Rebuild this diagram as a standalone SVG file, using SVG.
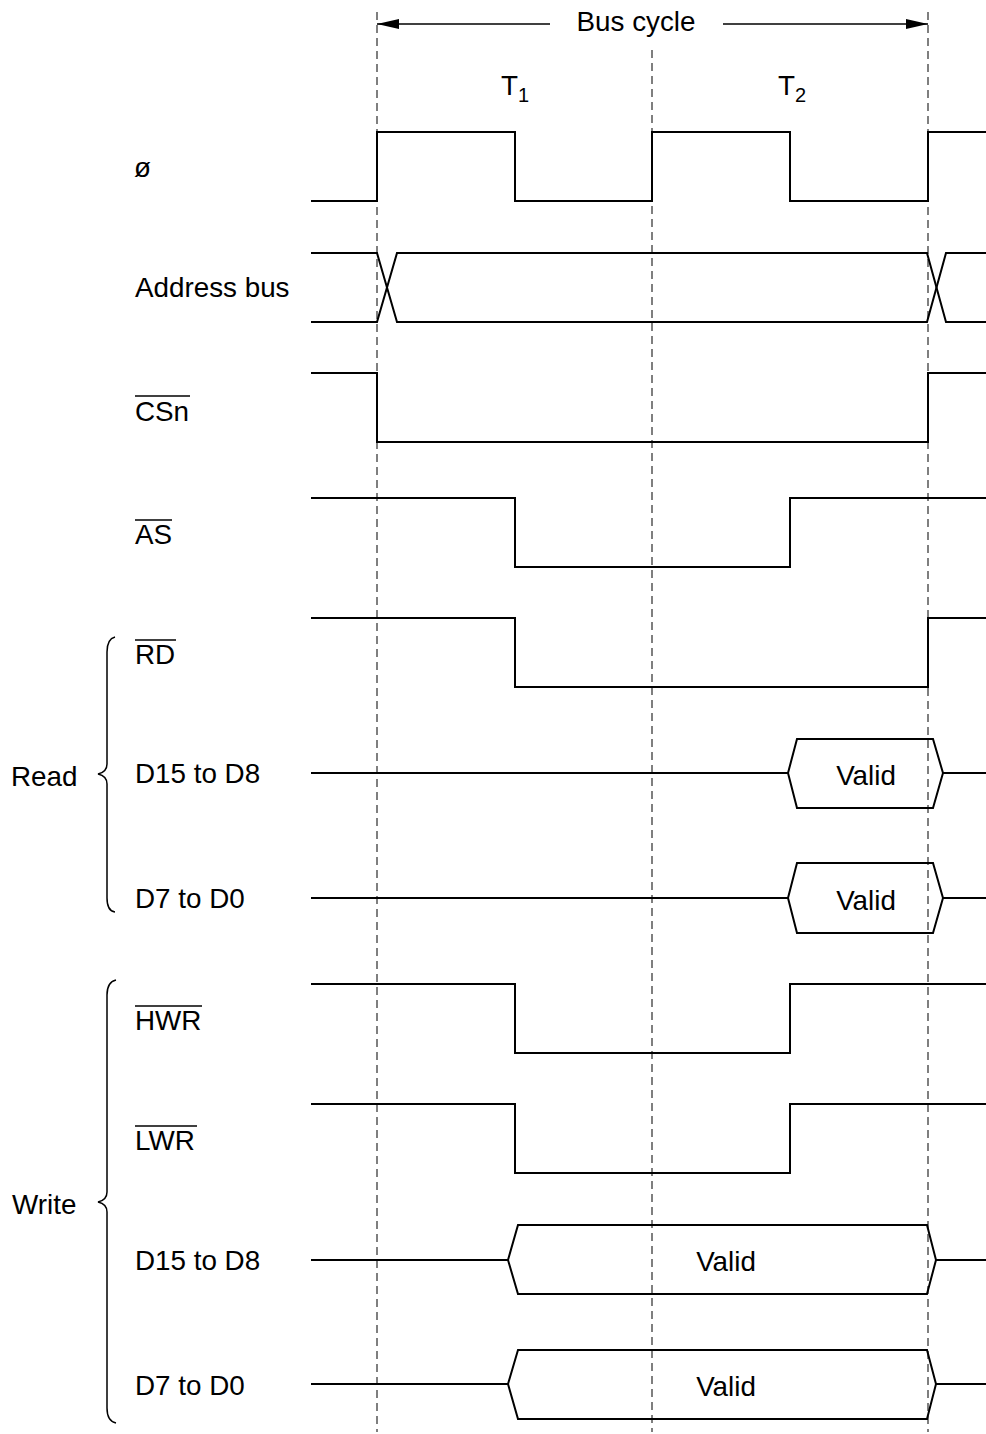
<svg xmlns="http://www.w3.org/2000/svg" width="986" height="1434" viewBox="0 0 986 1434">
<style>
text{font-family:"Liberation Sans",Arial,sans-serif;font-size:27.8px;fill:#000}
.sub{font-size:20px}
.sig{fill:none;stroke:#000;stroke-width:2;stroke-linejoin:miter}
.dash{fill:none;stroke:#555;stroke-width:1.5;stroke-dasharray:8 5}
.ol{stroke:#000;stroke-width:1.5}
.br{fill:none;stroke:#000;stroke-width:1.5}
</style>
<defs>
<marker id="ah" viewBox="0 0 22 10" refX="22" refY="5" markerWidth="22" markerHeight="10" markerUnits="userSpaceOnUse" orient="auto">
<path d="M0,0 L22,5 L0,10 z" fill="#000"/>
</marker>
</defs>
<g id="guides">
<line class="dash" x1="377" y1="12" x2="377" y2="1432"/>
<line class="dash" x1="652" y1="50" x2="652" y2="1432"/>
<line class="dash" x1="928" y1="12" x2="928" y2="1432"/>
</g>
<g id="connectors">
<line x1="550" y1="24" x2="377" y2="24" stroke="#000" stroke-width="1.5" marker-end="url(#ah)"/>
<line x1="723" y1="24" x2="928" y2="24" stroke="#000" stroke-width="1.5" marker-end="url(#ah)"/>
</g>
<g id="header">
<text x="636" y="31" text-anchor="middle">Bus cycle</text>
<text x="501" y="95">T<tspan class="sub" dy="7">1</tspan></text>
<text x="778" y="95">T<tspan class="sub" dy="7">2</tspan></text>
</g>
<g id="clk">
<text x="134" y="177">ø</text>
<path class="sig" d="M311,201 H377 V132 H515 V201 H652 V132 H790 V201 H928 V132 H986"/>
</g>
<g id="addr">
<text x="135" y="297">Address bus</text>
<path class="sig" d="M311,253 H377 L397,322 H927 L946,253 H986"/>
<path class="sig" d="M311,322 H377 L397,253 H927 L946,322 H986"/>
</g>
<g id="csn">
<text x="135" y="421">CSn</text>
<line class="ol" x1="135" y1="396" x2="190" y2="396"/>
<path class="sig" d="M311,373 H377 V442 H928 V373 H986"/>
</g>
<g id="as">
<text x="135" y="544">AS</text>
<line class="ol" x1="135" y1="520" x2="172" y2="520"/>
<path class="sig" d="M311,498 H515 V567 H790 V498 H986"/>
</g>
<g id="read">
<text x="11" y="786">Read</text>
<path class="br" d="M115,637 Q107,639 107,652 V764 Q107,772 98,774 Q107,776 107,784 V898 Q107,911 115,912"/>
</g>
<g id="rd">
<text x="135" y="664">RD</text>
<line class="ol" x1="135" y1="640" x2="176" y2="640"/>
<path class="sig" d="M311,618 H515 V687 H928 V618 H986"/>
</g>
<g id="rd-d15">
<text x="135" y="783">D15 to D8</text>
<path class="sig" d="M311,773 H788 L797,739 H933 L943,773 H986"/>
<path class="sig" d="M788,773 L797,808 H933 L943,773"/>
<text x="866" y="785" text-anchor="middle">Valid</text>
</g>
<g id="rd-d7">
<text x="135" y="908">D7 to D0</text>
<path class="sig" d="M311,898 H788 L797,863 H933 L943,898 H986"/>
<path class="sig" d="M788,898 L797,933 H933 L943,898"/>
<text x="866" y="910" text-anchor="middle">Valid</text>
</g>
<g id="write">
<text x="12" y="1214">Write</text>
<path class="br" d="M116,980 Q107,982 107,995 V1192 Q107,1200 98,1202 Q107,1204 107,1212 V1408 Q107,1421 116,1423"/>
</g>
<g id="hwr">
<text x="135" y="1030">HWR</text>
<line class="ol" x1="135" y1="1006" x2="202" y2="1006"/>
<path class="sig" d="M311,984 H515 V1053 H790 V984 H986"/>
</g>
<g id="lwr">
<text x="135" y="1150">LWR</text>
<line class="ol" x1="135" y1="1126" x2="197" y2="1126"/>
<path class="sig" d="M311,1104 H515 V1173 H790 V1104 H986"/>
</g>
<g id="wr-d15">
<text x="135" y="1270">D15 to D8</text>
<path class="sig" d="M311,1260 H508 L518,1225 H927 L936,1260 H986"/>
<path class="sig" d="M508,1260 L518,1294 H927 L936,1260"/>
<text x="726" y="1271" text-anchor="middle">Valid</text>
</g>
<g id="wr-d7">
<text x="135" y="1395">D7 to D0</text>
<path class="sig" d="M311,1384 H508 L518,1350 H927 L936,1384 H986"/>
<path class="sig" d="M508,1384 L518,1419 H927 L936,1384"/>
<text x="726" y="1396" text-anchor="middle">Valid</text>
</g>
</svg>
